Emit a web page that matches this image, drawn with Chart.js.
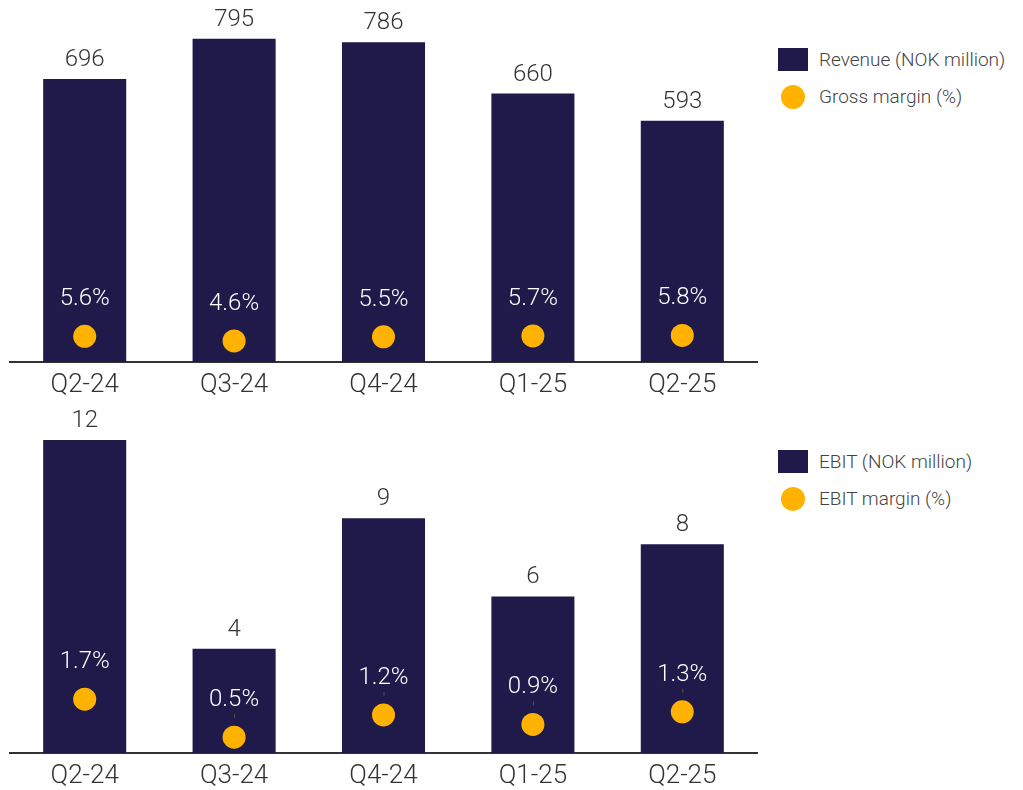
<!DOCTYPE html>
<html>
<head>
<meta charset="utf-8">
<script src="https://cdn.jsdelivr.net/npm/chart.js@4"></script>
<style>
  body { margin: 0; background: #fff; font-family: Roboto, sans-serif; }
  #page { position: relative; width: 1023px; height: 790px; overflow: hidden; }
  .box { position: absolute; left: 0; width: 760px; }
  .legend { position: absolute; left: 778px; color: #444; font-size: 19px; font-weight: 300; }
  .legend div { position: relative; height: 37px; line-height: 24px; padding-left: 41px; }
  .legend .sq { position: absolute; left: 0; top: 0; width: 30px; height: 23px; background: #1f1a4a; }
  .legend .dot { position: absolute; left: 3px; top: 0; width: 24px; height: 24px; border-radius: 50%; background: #ffb300; }
</style>
</head>
<body>
<div id="page">
  <div class="box" style="top:0;height:400px"><canvas id="topChart"></canvas></div>
  <div class="box" style="top:400px;height:390px"><canvas id="bottomChart"></canvas></div>
  <div class="legend" style="top:48px">
    <div><span class="sq"></span>Revenue (NOK million)</div>
    <div><span class="dot"></span>Gross margin (%)</div>
  </div>
  <div class="legend" style="top:450px">
    <div><span class="sq"></span>EBIT (NOK million)</div>
    <div><span class="dot"></span>EBIT margin (%)</div>
  </div>
</div>
<script>
const quarters = ["Q2-24", "Q3-24", "Q4-24", "Q1-25", "Q2-25"];
const revenue = [696, 795, 786, 660, 593];
const grossMargin = [5.6, 4.6, 5.5, 5.7, 5.8];
const ebit = [12, 4, 9, 6, 8];
const ebitMargin = [1.7, 0.5, 1.2, 0.9, 1.3];

const NAVY = "#1f1a4a";
const GOLD = "#ffb300";

// draws the numbers above bars and the % labels above dots
const valueLabels = {
    id: "valueLabels",
    afterDatasetsDraw(chart, args, opts) {
        const ctx = chart.ctx;
        ctx.save();
        ctx.textAlign = "center";
        ctx.textBaseline = "middle";
        ctx.font = "300 24px Roboto";

        const bars = chart.getDatasetMeta(0).data;
        const barValues = chart.data.datasets[0].data;
        ctx.fillStyle = "#333";
        bars.forEach((bar, i) => {
            ctx.fillText(String(barValues[i]), bar.x, bar.y - 19);
        });

        const dots = chart.getDatasetMeta(1).data;
        const dotValues = chart.data.datasets[1].data;
        const leaders = opts.leaders || [];
        dots.forEach((pt, i) => {
            ctx.fillStyle = "#fff";
            ctx.fillText(dotValues[i].toFixed(1) + "%", pt.x, pt.y - 37);
            if (leaders.includes(i)) {
                ctx.strokeStyle = "#555";
                ctx.lineWidth = 1;
                ctx.beginPath();
                ctx.moveTo(pt.x + 0.5, pt.y - 23);
                ctx.lineTo(pt.x + 0.5, pt.y - 19);
                ctx.stroke();
            }
        });
        ctx.restore();
    }
};

function makeChart(id, bars, dots, barMax, dotMax, axisHeight, leaders) {
    return new Chart(document.getElementById(id), {
        type: "bar",
        data: {
            labels: quarters,
            datasets: [{
                data: bars,
                backgroundColor: NAVY,
                barPercentage: 0.556,
                categoryPercentage: 1,
                yAxisID: "y",
                order: 1
            }, {
                type: "line",
                data: dots,
                showLine: false,
                pointRadius: 11.5,
                pointBackgroundColor: GOLD,
                pointBorderWidth: 0,
                yAxisID: "y2",
                order: 0
            }]
        },
        options: {
            responsive: true,
            maintainAspectRatio: false,
            animation: false,
            layout: { autoPadding: false, padding: { left: 10, right: 3, top: 0, bottom: 0 } },
            plugins: {
                legend: { display: false },
                tooltip: { enabled: false },
                valueLabels: { leaders }
            },
            scales: {
                x: {
                    grid: { display: false, drawTicks: false },
                    border: { display: true, color: "#333", width: 2 },
                    ticks: { color: "#333", font: { family: "Roboto", size: 26, weight: "300" }, padding: 8 },
                    afterFit: s => { s.height = axisHeight; }
                },
                y: { display: false, min: 0, max: barMax },
                y2: { display: false, min: 0, max: dotMax }
            }
        },
        plugins: [valueLabels]
    });
}

makeChart("topChart", revenue, grossMargin, 890, 79, 38, []);
makeChart("bottomChart", ebit, ebitMargin, 13.53, 11.14, 37, [1, 2, 3, 4]);
</script>
</body>
</html>
